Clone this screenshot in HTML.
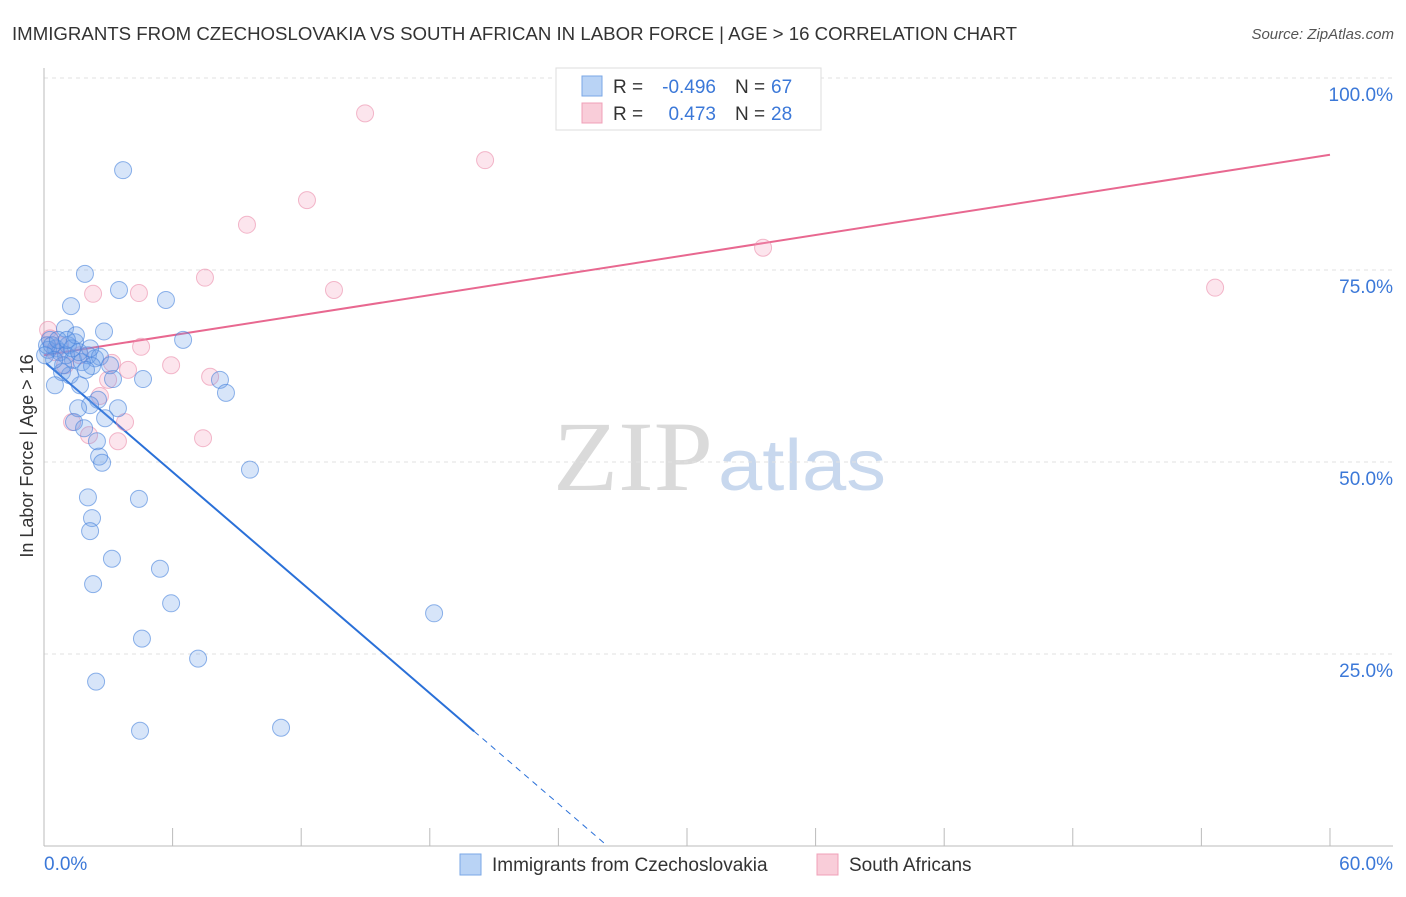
<!DOCTYPE html>
<html><head><meta charset="utf-8"><style>
body{margin:0;background:#fff;font-family:"Liberation Sans",sans-serif}
</style></head><body>
<svg id="chart" width="1406" height="892" viewBox="0 0 1406 892" xmlns="http://www.w3.org/2000/svg" font-family="Liberation Sans, sans-serif">
<text x="12" y="40" font-size="18" textLength="1005" lengthAdjust="spacingAndGlyphs" fill="#333">IMMIGRANTS FROM CZECHOSLOVAKIA VS SOUTH AFRICAN IN LABOR FORCE | AGE &gt; 16 CORRELATION CHART</text>
<text x="1394" y="39" font-size="15" fill="#555" text-anchor="end" font-style="italic">Source: ZipAtlas.com</text>
<g>
<text x="553" y="490" font-size="100" fill="#dadada" style="font-family:'Liberation Serif',serif" textLength="160" lengthAdjust="spacingAndGlyphs">ZIP</text>
<text x="718" y="490" font-size="72" fill="#c8d8ee" textLength="168" lengthAdjust="spacingAndGlyphs">atlas</text>
</g>
<g id="grid"></g>
<g id="axes"></g>
<g id="trend"></g>
<g id="pts"></g>
<text transform="translate(33,456) rotate(-90)" font-size="18" fill="#333" text-anchor="middle">In Labor Force | Age &gt; 16</text>
<g font-size="19">
<rect x="556" y="68" width="265" height="62" fill="#fff" stroke="#ddd"/>
<rect x="582" y="76" width="20" height="20" fill="#b9d3f5" stroke="#7aa7e6"/>
<rect x="582" y="103" width="20" height="20" fill="#f9cdd9" stroke="#f0a0b8"/>
<text x="613" y="93" fill="#333">R =</text>
<text x="716" y="93" fill="#3b78d8" text-anchor="end">-0.496</text>
<text x="735" y="93" fill="#333">N =</text>
<text x="771" y="93" fill="#3b78d8">67</text>
<text x="613" y="120" fill="#333">R =</text>
<text x="716" y="120" fill="#3b78d8" text-anchor="end">0.473</text>
<text x="735" y="120" fill="#333">N =</text>
<text x="771" y="120" fill="#3b78d8">28</text>
</g>
<g>
<rect x="460" y="854" width="21" height="21" fill="#b9d3f5" stroke="#7aa7e6"/>
<text x="492" y="871" font-size="19" fill="#333">Immigrants from Czechoslovakia</text>
<rect x="817" y="854" width="21" height="21" fill="#f9cdd9" stroke="#f0a0b8"/>
<text x="849" y="871" font-size="19" fill="#333">South Africans</text>
</g>
</svg>
<script>
const blueX=[3.69,1.91,3.50,5.69,1.26,2.80,6.49,0.98,0.28,0.56,0.19,0.75,1.12,1.45,2.05,2.38,2.61,1.35,1.77,0.84,1.21,2.24,0.51,1.68,3.22,4.62,8.21,8.49,2.52,2.15,1.59,3.45,2.85,1.40,1.87,2.47,2.57,2.71,9.61,2.05,4.43,2.24,2.15,3.17,5.41,2.29,5.93,18.20,4.57,7.19,2.43,4.48,11.06,0.14,0.37,0.65,1.03,1.63,0.89,1.96,1.31,0.47,3.08,0.05,1.49,1.07,2.15];
const blueY=[88.0,74.5,72.4,71.1,70.3,67.0,65.9,67.4,65.9,64.8,64.6,64.3,65.2,65.6,63.9,63.5,63.7,63.3,63.0,61.7,61.3,62.5,60.0,60.0,60.8,60.8,60.7,59.0,58.1,57.4,57.0,57.0,55.7,55.2,54.4,52.7,50.7,49.9,49.0,45.4,45.2,42.7,41.0,37.4,36.1,34.1,31.6,30.3,27.0,24.4,21.4,15.0,15.4,65.2,65.2,65.9,63.9,64.3,62.6,62.0,64.8,63.3,62.6,63.9,66.5,65.9,64.8];
const pinkX=[14.98,20.58,12.27,9.47,33.55,7.51,2.29,4.43,13.53,54.64,0.19,4.53,3.17,5.93,3.92,7.75,2.99,2.61,1.31,3.78,2.10,3.45,7.42,0.75,0.51,1.68,0.98,0.28];
const pinkY=[95.4,89.3,84.1,80.9,77.9,74.0,71.9,72.0,72.4,72.7,67.2,65.0,62.9,62.6,62.0,61.1,60.7,58.6,55.2,55.2,53.5,52.7,53.1,65.2,64.3,63.9,62.6,66.1];
const yTicks=[25,50,75,100];
const yTickLabels=["25.0%","50.0%","75.0%","100.0%"];
const xTickLabels=["0.0%","60.0%"];
const blueTrend=[63.1,-2.40];
const pinkTrend=[63.9,0.435];
const NS="http://www.w3.org/2000/svg";
const sx=v=>44+v*21.433, sy=v=>846-v*7.68;
function mk(t,a,p){const e=document.createElementNS(NS,t);for(const k in a)e.setAttribute(k,a[k]);p.appendChild(e);return e;}
const grid=document.getElementById('grid'),axes=document.getElementById('axes');
yTicks.forEach((t,i)=>{
 const g=mk('line',{x1:44,x2:1393,y1:sy(t),y2:sy(t),stroke:'#e2e2e2','stroke-dasharray':'4,4'},grid);
 
 
 const l=mk('text',{x:1393,y:sy(t)+23,'font-size':19,fill:'#3b78d8','text-anchor':'end'},axes);
 l.textContent=yTickLabels[i];
 
 
});
const ax=mk('line',{x1:44,x2:1393,y1:846,y2:846,stroke:'#bbb'},axes);


const ay=mk('line',{x1:44,x2:44,y1:68,y2:846,stroke:'#bbb'},axes);


for(let i=0;i<=10;i++){const t=mk('line',{x1:sx(i*6),x2:sx(i*6),y1:828,y2:846,stroke:'#bbb'},axes);
 
 }
xTickLabels.forEach((s,i)=>{const t=mk('text',{x:i?1393:44,y:870,'font-size':19,fill:'#3b78d8','text-anchor':i?'end':'start'},axes);t.textContent=s;
 
 });
const pts=document.getElementById('pts');
function dots(X,Y,fill,stroke,name){X.forEach((x,i)=>{const c=mk('circle',{cx:sx(x),cy:sy(Y[i]),r:8.5,fill:fill,stroke:stroke,'stroke-width':1},pts);
 
 });}
dots(pinkX,pinkY,'rgba(245,160,190,0.28)','rgba(235,140,170,0.6)','south-african-point');
dots(blueX,blueY,'rgba(110,160,235,0.28)','rgba(70,130,220,0.6)','czechoslovakia-point');
const tr=document.getElementById('trend');
const f=(c,x)=>c[0]+c[1]*x;
const b1=mk('line',{x1:sx(0.1),y1:sy(f(blueTrend,0.1)),x2:sx(20.07),y2:sy(f(blueTrend,20.07)),stroke:'#2a70d8','stroke-width':2},tr);


const xEnd=-blueTrend[0]/blueTrend[1];
const b2=mk('line',{x1:sx(20.07),y1:sy(f(blueTrend,20.07)),x2:sx(xEnd),y2:sy(0),stroke:'#2a70d8','stroke-width':1,'stroke-dasharray':'6,5'},tr);


const p1=mk('line',{x1:sx(0),y1:sy(f(pinkTrend,0)),x2:sx(60),y2:sy(f(pinkTrend,60)),stroke:'#e86890','stroke-width':2},tr);


</script>
</body></html>
